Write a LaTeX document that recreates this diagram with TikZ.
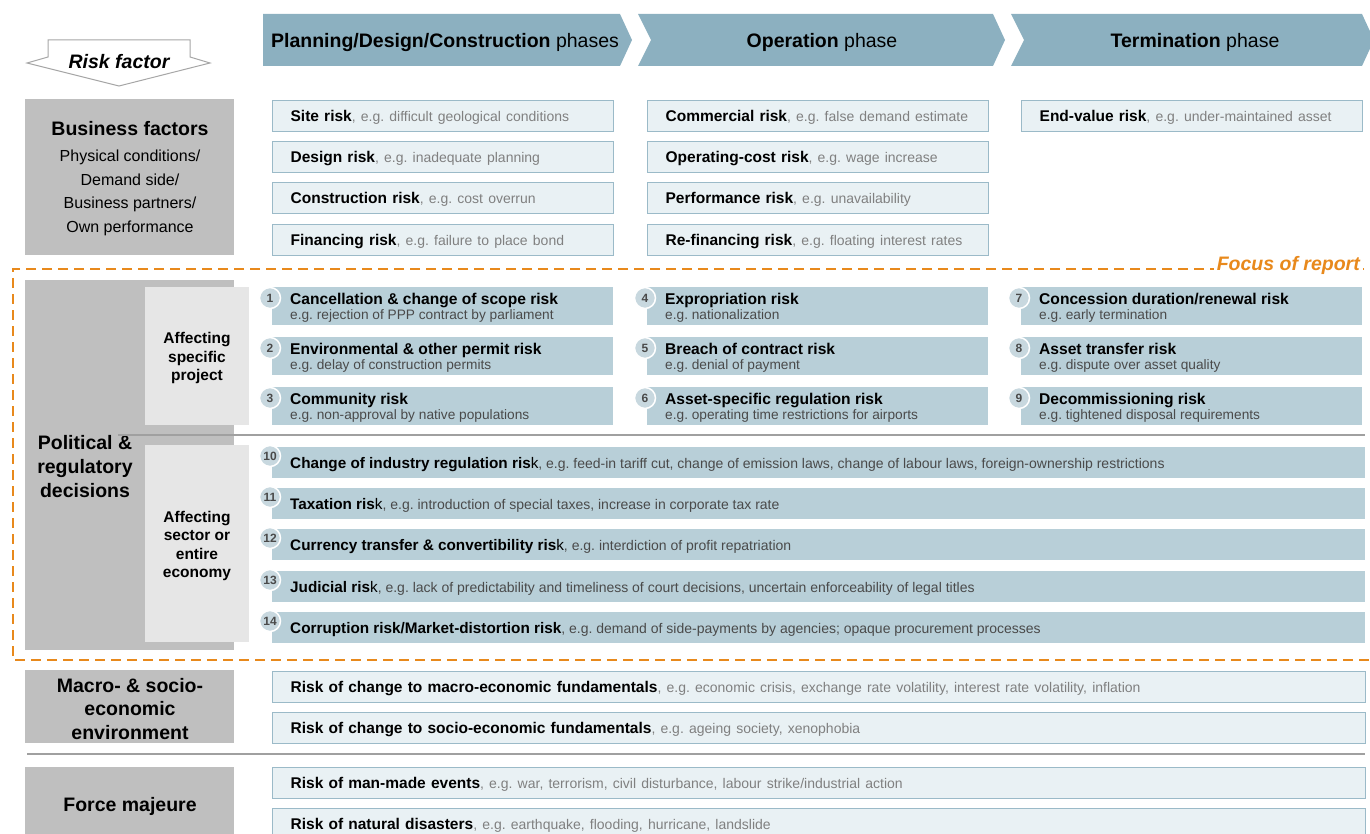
\documentclass[tikz,border=0pt]{standalone}
\usepackage{fontspec}
\setmainfont{Liberation Sans}
\usetikzlibrary{positioning}
\frenchspacing
\definecolor{phaseblue}{HTML}{8CB0C0}
\definecolor{lightfill}{HTML}{E9F1F4}
\definecolor{lightline}{HTML}{9BBAC8}
\definecolor{riskblue}{HTML}{B8CFD8}
\definecolor{factorgray}{HTML}{BFBFBF}
\definecolor{subgray}{HTML}{E6E6E6}
\definecolor{numfill}{HTML}{C8D8DF}
\definecolor{eggray}{HTML}{808080}
\definecolor{egdark}{HTML}{4A4A4A}
\definecolor{focus}{HTML}{E8891C}
\definecolor{sepline}{HTML}{A0A0A0}
\newcommand{\fs}[2]{\fontsize{#1}{#2}\selectfont}
\newcommand{\eg}[1]{{\color{eggray}\fs{14}{16}, e.g. #1}}
\newcommand{\egd}[1]{{\color{egdark}\fs{13.7}{15}#1}}
\tikzset{
    phase/.style={fill=phaseblue},
    phasetext/.style={font=\fs{19.5}{22}},
    arrowline/.style={draw=gray!70, fill=white, line width=1pt, line join=miter},
    factor/.style={fill=factorgray, anchor=north west, inner sep=0pt},
    factortext/.style={font=\bfseries\fs{19.5}{24}, align=center},
    subfactor/.style={fill=subgray, anchor=north west, inner sep=0pt},
    subtext/.style={font=\bfseries\fs{15.5}{18.5}, align=center},
    lightbox/.style={draw=lightline, fill=lightfill, line width=1.3pt, anchor=north west,
        minimum height=31pt, inner xsep=18pt, inner ysep=0pt, text width=#1,
        text height=12.5pt, text depth=2pt, align=left, font=\fs{15.5}{18}},
    lightbox/.default=305pt,
    riskbox/.style={fill=riskblue, anchor=north west, minimum height=#1, inner sep=0pt},
    riskbox/.default=38pt,
    risktext/.style={anchor=west, inner sep=0pt, align=left},
    num/.style={circle, fill=numfill, draw=white, line width=1.5pt, minimum size=21pt,
        inner sep=0pt, font=\bfseries\fs{12}{12}, text=egdark},
    seprule/.style={draw=sepline, line width=1.5pt},
    focusline/.style={draw=focus, line width=2.5pt, dash pattern=on 10pt off 6pt},
}
\begin{document}
\begin{tikzpicture}[x=1pt, y=-1pt]
    \useasboundingbox (0,0) rectangle (1370,834);
    \clip (0,0) rectangle (1370,834);
    % header
    \draw[arrowline] (48,40) -- (190,40) -- (190,57) -- (210,63) -- (119,86) -- (27,63) -- (48,57) -- cycle;
    \node[font=\bfseries\itshape\fs{19.5}{22}] (riskfactor) at (119,62) {Risk factor};
    \fill[phase] (263,14) -- (620,14) -- (632,40) -- (620,66) -- (263,66) -- cycle;
    \fill[phase] (638,14) -- (993,14) -- (1005,40) -- (993,66) -- (638,66) -- (651,40) -- cycle;
    \fill[phase] (1011,14) -- (1362,14) -- (1374,40) -- (1362,66) -- (1011,66) -- (1024,40) -- cycle;
    \node[phasetext] (ph1) at (445,42.5) {\textbf{Planning/Design/Construction} phases};
    \node[phasetext] (ph2) at (822,42.5) {\textbf{Operation} phase};
    \node[phasetext] (ph3) at (1195,42.5) {\textbf{Termination} phase};
    % focus of report
    \draw[focusline] (1380,269) -- (13,269) -- (13,660) -- (1380,660);
    \node[fill=white, inner sep=3pt, anchor=east, text=focus, font=\bfseries\itshape\fs{19.5}{22}] (focus) at (1363,265) {Focus of report};
    % risk factors on the left
    \node[factor, minimum width=209pt, minimum height=156pt] (business) at (25,99) {};
    \node[factor, minimum width=209pt, minimum height=370pt] (political) at (25,280) {};
    \node[factor, minimum width=209pt, minimum height=73pt] (macro) at (25,670) {};
    \node[factor, minimum width=209pt, minimum height=80pt] (force) at (25,767) {};
    \node[factortext] (businesstitle) at (130,129) {Business factors};
    \node[align=center, font=\fs{16}{23.7}] (businesssub) at (130,193) {Physical conditions/\\Demand side/\\Business partners/\\Own performance};
    \node[factortext] (politicaltitle) at (85,467) {Political \&\\regulatory\\decisions};
    \node[factortext, font=\bfseries\fs{19.5}{23.5}] (macrotitle) at (130,709) {Macro- \& socio-\\economic\\environment};
    \node[factortext] (forcetitle) at (130,806) {Force majeure};
    \draw[seprule] (118,435) -- (1365,435);
    \draw[seprule] (27,754) -- (1365,754);
    \node[subfactor, minimum width=104pt, minimum height=138pt] (specific) at (145,287) {};
    \node[subfactor, minimum width=104pt, minimum height=197pt] (sector) at (145,445) {};
    \node[subtext] (specifictext) at (197,358) {Affecting\\specific\\project};
    \node[subtext] (sectortext) at (197,546) {Affecting\\sector or\\entire\\economy};
    % business risks
    \foreach \i/\x/\y/\t/\e in {1/272/100/{Site risk}/{difficult geological conditions},
        2/272/141/{Design risk}/{inadequate planning},
        3/272/182/{Construction risk}/{cost overrun},
        4/272/224/{Financing risk}/{failure to place bond},
        5/647/100/{Commercial risk}/{false demand estimate},
        6/647/141/{Operating-cost risk}/{wage increase},
        7/647/182/{Performance risk}/{unavailability},
        8/647/224/{Re-financing risk}/{floating interest rates},
        9/1021/100/{End-value risk}/{under-maintained asset}}
        \node[lightbox] (b\i) at (\x,\y) {\textbf{\t}\eg{\e}};
    % project specific political risks
    \foreach \i/\x/\y/\t/\e in {1/272/287/{Cancellation \& change of scope risk}/{rejection of PPP contract by parliament},
        2/272/337/{Environmental \& other permit risk}/{delay of construction permits},
        3/272/387/{Community risk}/{non-approval by native populations},
        4/647/287/{Expropriation risk}/{nationalization},
        5/647/337/{Breach of contract risk}/{denial of payment},
        6/647/387/{Asset-specific regulation risk}/{operating time restrictions for airports},
        7/1021/287/{Concession duration/renewal risk}/{early termination},
        8/1021/337/{Asset transfer risk}/{dispute over asset quality},
        9/1021/387/{Decommissioning risk}/{tightened disposal requirements}}{
        \node[riskbox, minimum width=341pt] (p\i) at (\x,\y) {};
        \node[risktext, font=\fs{15.6}{15}] (t\i) at ({\x+18},{\y+20.5}) {\textbf{\t}\\\egd{e.g. \e}};
        \node[num] (n\i) at ({\x-2},{\y+11}) {\i};
    }
    % sector wide political risks
    \foreach \i/\y/\t/\e in {10/447/{\textbf{Change of industry regulation ris}k}/{feed-in tariff cut, change of emission laws, change of labour laws, foreign-ownership restrictions},
        11/488/{\textbf{Taxation ris}k}/{introduction of special taxes, increase in corporate tax rate},
        12/529/{\textbf{Currency transfer \& convertibility ris}k}/{interdiction of profit repatriation},
        13/571/{\textbf{Judicial ris}k}/{lack of predictability and timeliness of court decisions, uncertain enforceability of legal titles},
        14/612/{\textbf{Corruption risk/Market-distortion risk}}/{demand of side-payments by agencies; opaque procurement processes}}{
        \node[riskbox=31pt, minimum width=1093pt] (p\i) at (272,\y) {};
        \node[risktext, text height=12.5pt, text depth=2pt, font=\fs{15.3}{18}] (t\i) at (290,{\y+16}) {\t{\color{egdark}\fs{14}{16}, e.g. \e}};
        \node[num] (n\i) at (270,{\y+9}) {\i};
    }
    % macro-economic and force majeure risks
    \foreach \i/\y/\t/\e in {1/671/{Risk of change to macro-economic fundamentals}/{economic crisis, exchange rate volatility, interest rate volatility, inflation},
        2/712/{Risk of change to socio-economic fundamentals}/{ageing society, xenophobia},
        3/767/{Risk of man-made events}/{war, terrorism, civil disturbance, labour strike/industrial action},
        4/808/{Risk of natural disasters}/{earthquake, flooding, hurricane, landslide}}
        \node[lightbox=1057pt] (m\i) at (272,\y) {\textbf{\t}\eg{\e}};
\end{tikzpicture}
\end{document}
